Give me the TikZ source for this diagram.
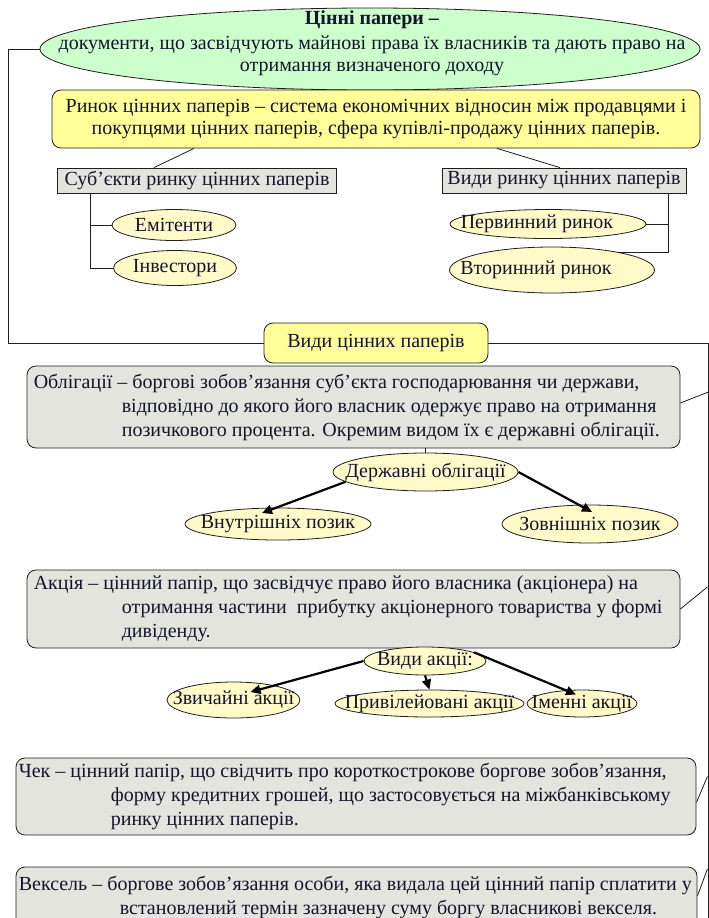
\documentclass[tikz,border=0pt]{standalone}
\usepackage{fontspec}
\setmainfont{Liberation Serif}
\usetikzlibrary{arrows.meta,shapes.geometric,calc}
\definecolor{tcol}{RGB}{20,20,45}
\definecolor{gfill}{RGB}{204,255,204}
\definecolor{yfill}{RGB}{255,255,153}
\definecolor{efill}{RGB}{255,250,200}
\definecolor{bfill}{RGB}{228,228,222}
\definecolor{lcol}{RGB}{30,30,30}
\newcommand{\zw}[1]{\makebox[0pt]{#1}}
\newcommand{\zs}[2]{\makebox[0pt]{\hspace*{#1}\makebox[0pt]{#2}}}
\begin{document}
\begin{tikzpicture}[x=1pt,y=-1pt,
 every node/.style={font=\fontsize{20}{22}\selectfont, text=tcol},
 ell/.style={ellipse, draw=lcol, line width=0.8pt, fill=efill, inner sep=0pt},
 rbox/.style={rectangle, draw=lcol, line width=0.8pt, rounded corners=9pt, inner sep=0pt},
 gbox/.style={rectangle, draw=lcol, line width=0.8pt, fill=bfill, inner sep=0pt},
 btxt/.style={align=left, inner sep=0pt, font=\fontsize{20}{24}\selectfont},
 conn/.style={draw=lcol, line width=0.8pt},
 arr/.style={draw=black, line width=2.2pt, -{Triangle[length=10pt,width=9pt]}}
]
\useasboundingbox (0,0) rectangle (709,918);
\clip (0,0) rectangle (709,918);

% top ellipse
\node[ellipse, draw=lcol, line width=0.8pt, fill=gfill, minimum width=660pt, minimum height=82pt, inner sep=0pt] (top) at (370,49) {};
\node[align=center, inner sep=0pt] (toptxt) at (372,43) {\textbf{Цінні папери –}\\[3pt]документи, що засвідчують майнові права їх власників та дають право на\\отримання визначеного доходу};

% market box
\node[rbox, fill=yfill, minimum width=648pt, minimum height=58pt, align=center] (rynok) at (376,119) {Ринок цінних паперів – система економічних відносин між продавцями і\\покупцями цінних паперів, сфера купівлі-продажу цінних паперів.};

\node[gbox, minimum width=279pt, minimum height=25pt] (subj) at (197,180.5) {Суб’єкти ринку цінних паперів};
\node[gbox, minimum width=244pt, minimum height=25pt] (vrp) at (564,180.5) {Види ринку цінних паперів};
\draw[conn] ([xshift=-182pt]rynok.south) -- ([xshift=-43pt]subj.north);
\draw[conn] ([xshift=121pt]rynok.south) -- ([xshift=-4pt]vrp.north);

\node[ell, minimum width=124pt, minimum height=31pt] (emi) at (174,225) {\zw{Емітенти}};
\node[ell, minimum width=123pt, minimum height=35pt] (inv) at (175,268) {\zw{Інвестори}};
\coordinate (lt) at ([xshift=-107pt]subj.south);
\draw[conn] (lt) |- (inv.west);
\draw[conn] (emi.west) -- (emi.west -| lt);

\node[ell, minimum width=196pt, minimum height=29pt] (perv) at (548,224) {\zs{-22pt}{Первинний ринок}};
\node[ell, minimum width=205pt, minimum height=46pt] (vtor) at (552,270) {\zs{-32pt}{Вторинний ринок}};
\coordinate (rt) at ([xshift=104pt]vrp.south);
\draw[conn] (rt) |- (vtor.15);
\draw[conn] (perv.east) -- (perv.east -| rt);

% kinds of securities
\node[rbox, fill=yfill, minimum width=224pt, minimum height=40pt] (vcp) at (376,343) {Види цінних паперів};
\coordinate (fl) at (8,49);
\coordinate (fr) at (708,930);
\draw[conn] (top.west) -- (fl) |- (vcp.west);
\draw[conn] (vcp.east) -| (fr);

% bonds
\node[rbox, fill=bfill, minimum width=653pt, minimum height=82pt] (obl) at (353.5,407) {};
\node[btxt, anchor=west] (oblt) at ([xshift=7pt]obl.west) {Облігації – боргові зобов’язання суб’єкта господарювання чи держави,\\\hspace*{88pt}відповідно до якого його власник одержує право на отримання\\\hspace*{88pt}позичкового процента. Окремим видом їх є державні облігації.};
\draw[conn] ([yshift=4pt]obl.east) -- ++(28,-11);

\node[ell, minimum width=185pt, minimum height=38pt] (gov) at (425.5,472) {\zw{Державні облігації}};
\draw[conn] (gov.north) -- (gov.north |- obl.south);
\node[ell, minimum width=186pt, minimum height=32pt] (vnu) at (278,524) {\zw{Внутрішніх позик}};
\node[ell, minimum width=176pt, minimum height=38pt] (zov) at (590,524) {\zw{Зовнішніх позик}};
\draw[arr] (gov.187) -- ([xshift=-16pt,yshift=11pt]vnu.center);
\draw[arr] (gov.east) -- ([xshift=2pt,yshift=12pt]zov.center);

% shares
\node[rbox, fill=bfill, minimum width=653pt, minimum height=78pt] (akc) at (353.5,609) {};
\node[btxt, anchor=west] (akct) at ([xshift=7pt]akc.west) {Акція – цінний папір, що засвідчує право його власника (акціонера) на\\\hspace*{88pt}отримання частини\ \ прибутку акціонерного товариства у формі\\\hspace*{88pt}дивіденду.};
\draw[conn] (akc.east) -- ++(27,-22);

\node[ell, minimum width=122pt, minimum height=28pt] (vak) at (425,661) {\zw{Види акції:}};
\node[ell, minimum width=133pt, minimum height=36pt] (zvy) at (233.5,700) {\zw{Звичайні акції}};
\node[ell, minimum width=189pt, minimum height=27pt] (pri) at (429.5,703.5) {\zw{Привілейовані акції}};
\node[ell, minimum width=110pt, minimum height=27pt] (ime) at (582,703.5) {\zw{Іменні акції}};
\draw[arr] (vak.west) -- ([xshift=17pt,yshift=8pt]zvy.center);
\draw[arr] (vak.south) -- (pri.north);
\draw[arr] (vak.10) -- ([xshift=-6pt,yshift=9pt]ime.center);

% cheque
\node[rbox, fill=bfill, minimum width=680pt, minimum height=77pt] (chk) at (356,796.5) {};
\node[btxt, anchor=west] (chkt) at ([xshift=3pt]chk.west) {Чек – цінний папір, що свідчить про короткострокове боргове зобов’язання,\\\hspace*{92pt}форму кредитних грошей, що застосовується на міжбанківському\\\hspace*{92pt}ринку цінних паперів.};
\draw[conn] ([yshift=-6pt]chk.east) -- ++(11,-26);

% bill
\node[rbox, fill=bfill, minimum width=681pt, minimum height=62pt] (vek) at (356.5,898) {};
\node[btxt, anchor=west] (vekt) at ([xshift=3pt,yshift=1pt]vek.west) {Вексель – боргове зобов’язання особи, яка видала цей цінний папір сплатити у\\\hspace*{101pt}встановлений термін зазначену суму боргу власникові векселя.};
\draw[conn] ([yshift=2pt]vek.east) -- ++(10,-27);
\end{tikzpicture}
\end{document}
